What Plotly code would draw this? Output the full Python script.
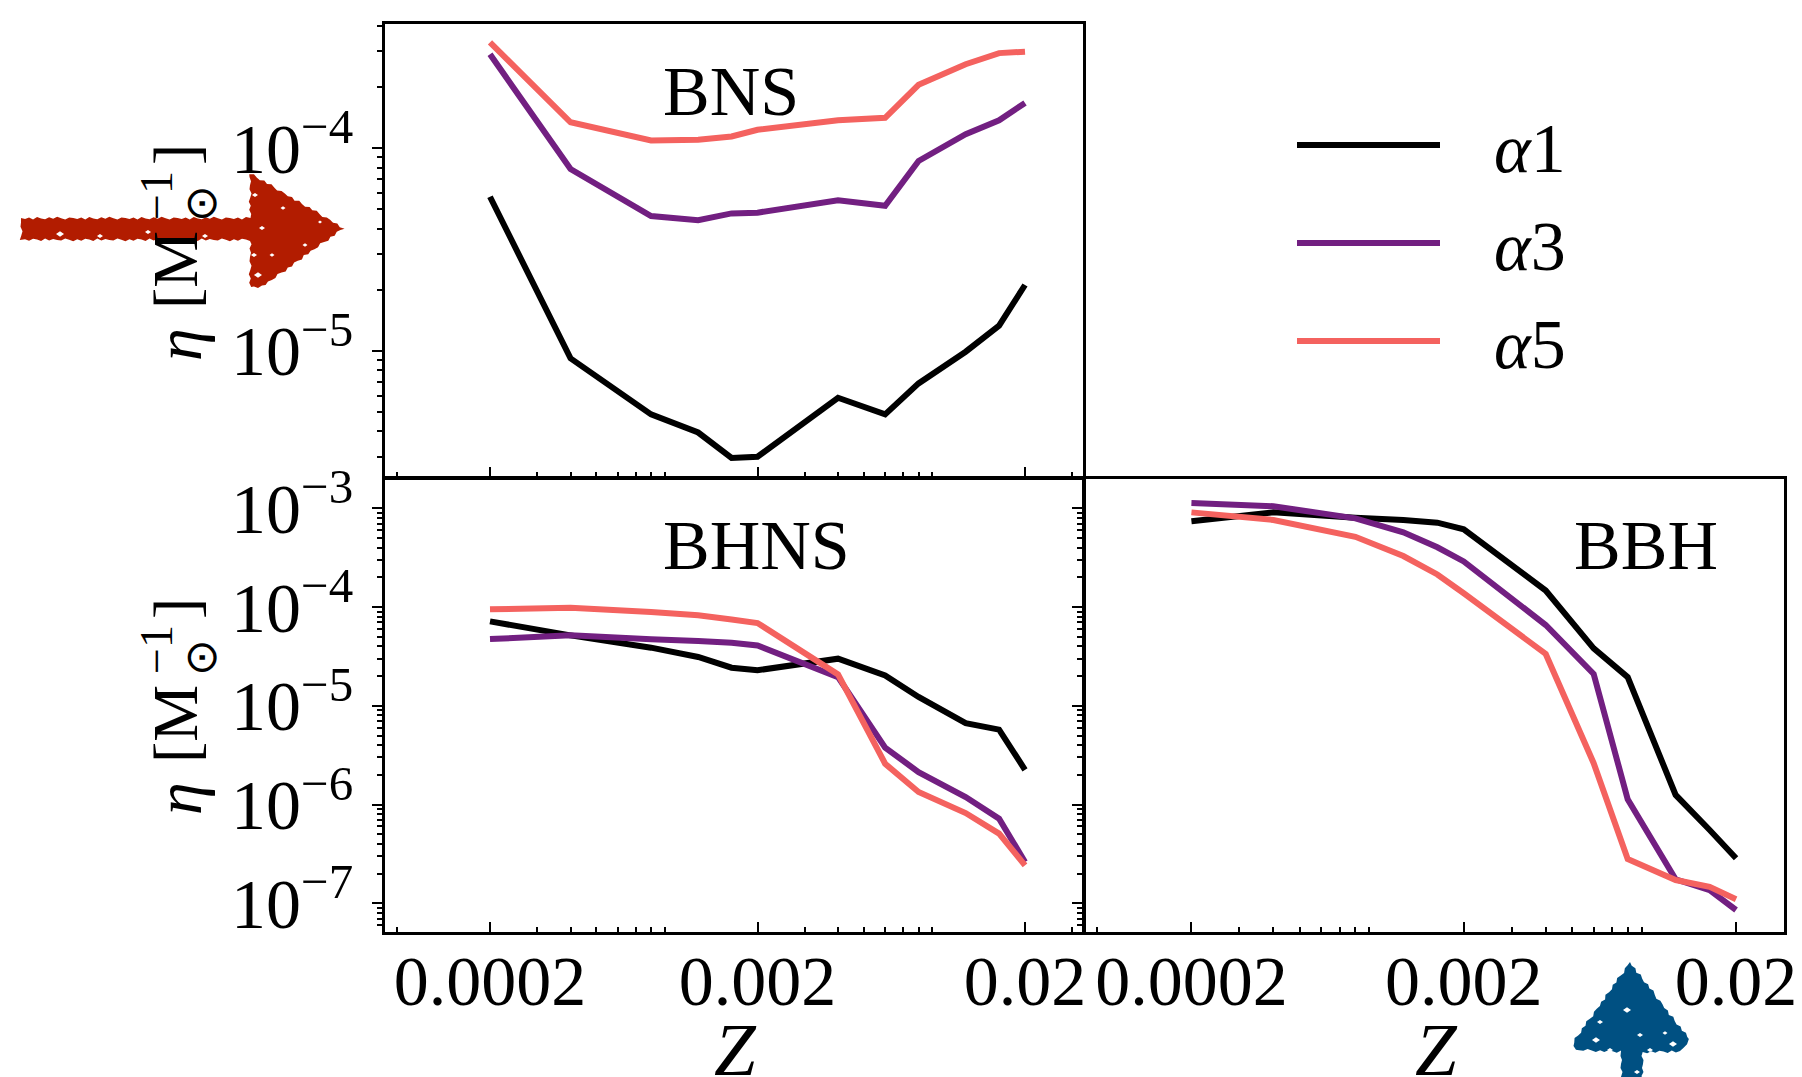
import plotly.graph_objects as go

W, H = 1802, 1077
FONT = "Liberation Serif"

# ---------- data ----------
Z = [0.0002, 0.0004, 0.0008, 0.0012, 0.0016, 0.002, 0.004, 0.006, 0.008, 0.012, 0.016, 0.02]

bns_a1 = [5.75e-5, 9.17e-6, 4.85e-6, 3.95e-6, 2.96e-6, 3.0e-6, 5.86e-6, 4.85e-6, 6.9e-6, 9.89e-6, 1.33e-5, 2.11e-5]
bns_a3 = [2.9e-4, 7.88e-5, 4.62e-5, 4.4e-5, 4.76e-5, 4.8e-5, 5.52e-5, 5.19e-5, 8.63e-5, 1.17e-4, 1.37e-4, 1.67e-4]
bns_a5 = [3.32e-4, 1.34e-4, 1.09e-4, 1.1e-4, 1.14e-4, 1.23e-4, 1.37e-4, 1.41e-4, 2.05e-4, 2.59e-4, 2.94e-4, 2.99e-4]

bhns_a1 = [7.16e-5, 5.17e-5, 3.88e-5, 3.12e-5, 2.43e-5, 2.29e-5, 3.0e-5, 2.03e-5, 1.23e-5, 6.68e-6, 5.73e-6, 2.25e-6]
bhns_a3 = [4.74e-5, 5.17e-5, 4.71e-5, 4.53e-5, 4.36e-5, 4.09e-5, 1.95e-5, 3.77e-6, 2.13e-6, 1.19e-6, 7.2e-7, 2.62e-7]
bhns_a5 = [9.48e-5, 9.86e-5, 8.9e-5, 8.24e-5, 7.5e-5, 6.89e-5, 2.08e-5, 2.59e-6, 1.34e-6, 8.2e-7, 5.07e-7, 2.42e-7]

bbh_a1 = [7.38e-4, 9.1e-4, 8.03e-4, 7.62e-4, 7.15e-4, 6.12e-4, 1.47e-4, 3.82e-5, 1.95e-5, 1.25e-6, 5.52e-7, 2.86e-7]
bbh_a3 = [1.13e-3, 1.05e-3, 7.92e-4, 5.71e-4, 4.03e-4, 2.9e-4, 6.58e-5, 2.1e-5, 1.13e-6, 1.75e-7, 1.36e-7, 8.55e-8]
bbh_a5 = [9.1e-4, 7.62e-4, 5.15e-4, 3.29e-4, 2.14e-4, 1.38e-4, 3.35e-5, 2.62e-6, 2.81e-7, 1.72e-7, 1.47e-7, 1.1e-7]

series_names = ["α1", "α3", "α5"]
series_colors = ["#000000", "#721f81", "#f4625f"]

x_major = [0.0002, 0.002, 0.02]
x_major_text = ["0.0002", "0.002", "0.02"]
x_minor = [9e-5, 3e-4, 4e-4, 5e-4, 6e-4, 7e-4, 8e-4, 9e-4,
           3e-3, 4e-3, 5e-3, 6e-3, 7e-3, 8e-3, 9e-3, 3e-2]

top_y_major = [1e-4, 1e-5]
top_y_text = ["10<sup>−4</sup>", "10<sup>−5</sup>"]
bot_y_major = [1e-3, 1e-4, 1e-5, 1e-6, 1e-7]
bot_y_text = ["10<sup>−3</sup>", "10<sup>−4</sup>", "10<sup>−5</sup>", "10<sup>−6</sup>", "10<sup>−7</sup>"]


def decade_minors(lo, hi):
    return [m * 10.0 ** e for e in range(lo, hi) for m in range(2, 10)]


def px(x):
    return x / W


def py(y):
    return 1 - y / H


fig = go.Figure()
panels = [
    ("x", "y", [bns_a1, bns_a3, bns_a5], True),
    ("x2", "y2", [bhns_a1, bhns_a3, bhns_a5], False),
    ("x3", "y3", [bbh_a1, bbh_a3, bbh_a5], False),
]
for xa, ya, rows, show in panels:
    for name, color, vals in zip(series_names, series_colors, rows):
        label = "\u00a0\u00a0\u2009<i>" + name[0] + "</i>" + name[1]
        fig.add_trace(go.Scatter(x=Z, y=vals, xaxis=xa, yaxis=ya, mode="lines", name=label,
                                 legendgroup=name, showlegend=show,
                                 line=dict(color=color, width=6, simplify=False)))


def xaxis(domain, rng, labels, anchor):
    return dict(
        type="log", domain=domain, range=rng, anchor=anchor,
        tickmode="array", tickvals=x_major, ticktext=x_major_text, showticklabels=labels,
        ticks="inside", ticklen=10, tickwidth=2, tickcolor="black",
        minor=dict(tickmode="array", tickvals=x_minor, ticks="inside", ticklen=5, tickwidth=2, tickcolor="black", showgrid=False),
        showline=True, linecolor="black", linewidth=2.5, mirror=True, showgrid=False, zeroline=False,
        tickfont=dict(family=FONT, size=70, color="black"), ticklabelstandoff=-14, automargin=False,
    )


def yaxis(domain, rng, vals, text, minors, anchor, labels=True):
    return dict(
        type="log", domain=domain, range=rng, anchor=anchor,
        tickmode="array", tickvals=vals, ticktext=text, showticklabels=labels,
        ticks="outside", ticklen=10, tickwidth=2, tickcolor="black",
        minor=dict(tickmode="array", tickvals=minors, ticks="outside", ticklen=5, tickwidth=2, tickcolor="black", showgrid=False),
        showline=True, linecolor="black", linewidth=2.5, mirror=True, showgrid=False, zeroline=False,
        tickfont=dict(family=FONT, size=70, color="black"), ticklabelstandoff=5, automargin=False,
    )


dom_l = [px(385), px(1083)]
dom_r = [px(1085), px(1784)]
dom_t = [py(477), py(24)]
dom_b = [py(932), py(479)]
top_minor = [v for v in decade_minors(-6, -3) if 2.9e-6 < v < 4.1e-4]
bot_minor = [v for v in decade_minors(-8, -2) if 5e-8 < v < 1.9e-3]
top_rng = [-5.623, -3.388]
bot_rng = [-7.291, -2.703]
left_x_rng = [-4.0915, -1.4822]
right_x_rng = [-4.0898, -1.5229]

annotations = []


def note(text, x, y, size=70, angle=0, xa="left", ya="bottom", color="black"):
    annotations.append(dict(text=text, x=px(x), y=py(y), xref="paper", yref="paper", showarrow=False,
                            xanchor=xa, yanchor=ya, textangle=angle, borderpad=0,
                            font=dict(family=FONT, size=size, color=color)))


note("BNS", 662, 131)
note("BHNS", 662, 585)
note("BBH", 1573, 585)
note("<i>Z</i>", 735, 1092, size=75, xa="center")
note("<i>Z</i>", 1436, 1092, size=75, xa="center")

for dy in (0, 454):
    note("<i>η</i>", 178, 345 + dy, size=66, angle=-90, xa="center", ya="middle")
    note("[M", 175, 270 + dy, size=64, angle=-90, xa="center", ya="middle")
    note("⊙", 201, 204 + dy, size=44, angle=-90, xa="center", ya="middle")
    note("−1", 156, 196 + dy, size=46, angle=-90, xa="center", ya="middle")
    note("]", 175, 155 + dy, size=64, angle=-90, xa="center", ya="middle")

# ---------- hand-drawn arrows sitting on top of the figure ----------
JAG = [0, 1, -0.5, 1.5, -1, 0.5, 1.2, -0.8, 0.8, -1.2, 0.3, 1.5, -0.5]


def jagged(points):
    out, k = [], 0
    n = len(points)
    for i in range(n):
        (x0, y0), (x1, y1) = points[i], points[(i + 1) % n]
        length = ((x1 - x0) ** 2 + (y1 - y0) ** 2) ** 0.5
        steps = max(1, int(length / 4))
        nx, ny = -(y1 - y0) / length, (x1 - x0) / length
        for s in range(steps):
            t = s / steps
            d = JAG[k % len(JAG)]
            k += 1
            out.append((x0 + (x1 - x0) * t + nx * d, y0 + (y1 - y0) * t + ny * d))
    return out


def path_of(points):
    return "M " + " L ".join(f"{px(x):.5f} {py(y):.5f}" for x, y in points) + " Z"


def specks(items):
    return " ".join(path_of([(x - r, y), (x, y - r * 0.7), (x + r, y), (x, y + r * 0.7)]) for x, y, r in items)


red_arrow = [(21, 218), (250, 218), (250, 173), (344, 228), (262, 287), (250, 287), (250, 240), (21, 240)]
blue_arrow = [(1630, 962), (1690, 1040), (1680, 1052), (1643, 1052), (1643, 1080), (1621, 1080), (1621, 1052), (1575, 1050), (1573, 1042)]
red_specks = [(262, 228, 3), (294, 196, 3), (258, 275, 4), (255, 195, 3), (305, 245, 2.5), (272, 255, 2.5), (283, 208, 2.5),
              (60, 234, 4), (100, 236, 3), (148, 232, 3), (205, 236, 3), (254, 255, 3), (320, 222, 2)]
blue_specks = [(1627, 1010, 4), (1596, 1040, 4), (1673, 1044, 4), (1640, 1035, 3), (1665, 1033, 2.5), (1600, 1022, 3), (1637, 1072, 3),
               (1610, 1050, 3), (1650, 1050, 3)]

shapes = [
    dict(type="path", xref="paper", yref="paper", path=path_of(jagged(red_arrow)), fillcolor="#b21c00", line=dict(width=0), layer="above"),
    dict(type="path", xref="paper", yref="paper", path=specks(red_specks), fillcolor="white", line=dict(width=0), layer="above"),
    dict(type="path", xref="paper", yref="paper", path=path_of(jagged(blue_arrow)), fillcolor="#005082", line=dict(width=0), layer="above"),
    dict(type="path", xref="paper", yref="paper", path=specks(blue_specks), fillcolor="white", line=dict(width=0), layer="above"),
]

fig.update_layout(
    width=W, height=H, margin=dict(l=0, r=0, t=0, b=0, pad=0, autoexpand=False),
    paper_bgcolor="white", plot_bgcolor="white",
    xaxis=xaxis(dom_l, left_x_rng, False, "y"),
    yaxis=yaxis(dom_t, top_rng, top_y_major, top_y_text, top_minor, "x"),
    xaxis2=xaxis(dom_l, left_x_rng, True, "y2"),
    yaxis2=yaxis(dom_b, bot_rng, bot_y_major, bot_y_text, bot_minor, "x2"),
    xaxis3=xaxis(dom_r, right_x_rng, True, "y3"),
    yaxis3=yaxis(dom_b, bot_rng, bot_y_major, bot_y_text, bot_minor, "x3", labels=False),
    legend=dict(x=px(1292), y=py(93), xanchor="left", yanchor="top", bgcolor="rgba(0,0,0,0)",
                itemwidth=143, tracegroupgap=4, font=dict(family=FONT, size=70, color="black"),
                traceorder="grouped"),
    annotations=annotations, shapes=shapes,
)

fig.write_html("out.html", post_script="document.body.style.margin='0';", config={"displayModeBar": False})
